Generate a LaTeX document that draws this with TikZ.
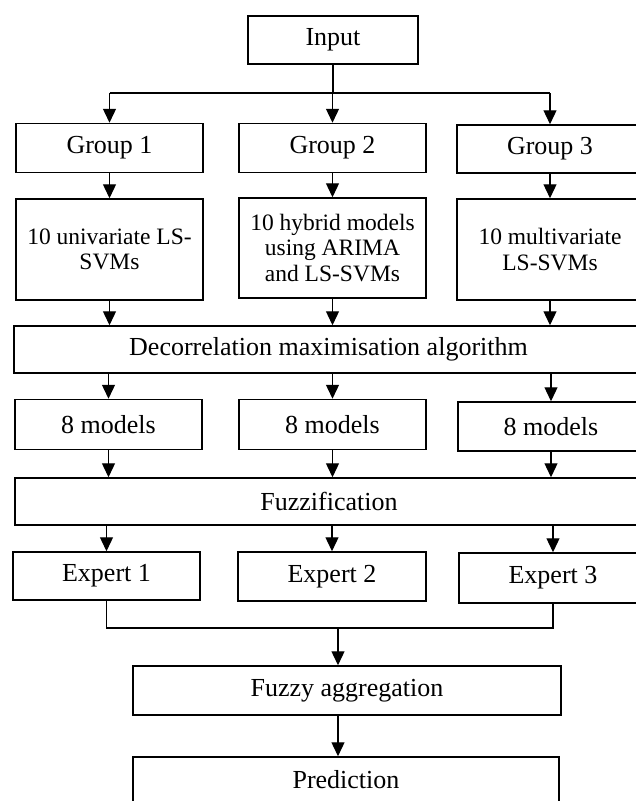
\documentclass[tikz,border=0pt]{standalone}
\usepackage{fontspec}
\setmainfont{Liberation Serif}
\usetikzlibrary{arrows.meta}

\begin{document}
\begin{tikzpicture}[x=1pt,y=-1pt,
    box/.style={draw,line width=1.5pt,inner sep=0pt,align=center,
      font=\fontsize{26}{30}\selectfont},
    smallbox/.style={box,font=\fontsize{23.5}{25.5}\selectfont},
    arr/.style={line width=1.3pt,-{Triangle[length=14pt,width=13pt]}},
    line/.style={line width=1.3pt}]
        % Frame
        \clip (0,0) rectangle (636,801);
        \useasboundingbox (0,0) rectangle (636,801);

        % Input
        \node[box,minimum width=170pt,minimum height=48pt] (inp) at (333,40) {Input};

        % Groups
        \node[box,minimum width=187pt,minimum height=49pt] (g1) at (109.5,148) {Group 1};
        \node[box,minimum width=187pt,minimum height=49pt] (g2) at (332.5,148) {Group 2};
        \node[box,minimum width=186pt,minimum height=48pt] (g3) at (550,149) {Group 3};

        % Models
        \node[smallbox,minimum width=187pt,minimum height=101pt] (m1) at (109.5,249.5) {10 univariate LS-\\SVMs};
        \node[smallbox,minimum width=187pt,minimum height=100pt] (m2) at (332.5,248) {10 hybrid models\\using ARIMA\\and LS-SVMs};
        \node[smallbox,minimum width=186pt,minimum height=101pt] (m3) at (550,249.5) {10 multivariate\\LS-SVMs};

        % Decorrelation
        \node[box,minimum width=629pt,minimum height=47pt] (dec) at (328.5,349.5) {Decorrelation maximisation algorithm};

        % Selected models
        \node[box,minimum width=187pt,minimum height=50pt] (s1) at (108.5,424.5) {8 models};
        \node[box,minimum width=187pt,minimum height=50pt] (s2) at (332.5,424.5) {8 models};
        \node[box,minimum width=186pt,minimum height=49pt] (s3) at (551,426.5) {8 models};

        % Fuzzification
        \node[box,minimum width=628pt,minimum height=47pt] (fuz) at (329,501.5) {Fuzzification};

        % Experts
        \node[box,minimum width=187pt,minimum height=48pt] (x1) at (106.5,576) {Expert 1};
        \node[box,minimum width=188pt,minimum height=49pt] (x2) at (332,576.5) {Expert 2};
        \node[box,minimum width=188pt,minimum height=50pt] (x3) at (553,578) {Expert 3};

        % Aggregation and output
        \node[box,minimum width=428pt,minimum height=49pt] (agg) at (347,690.5) {Fuzzy aggregation};
        \node[box,minimum width=426pt,minimum height=46pt] (pred) at (346,780) {Prediction};

        % Connectors
        \coordinate (sp) at (333,93);
        \coordinate (jn) at (338,628);
        \draw[line] (inp.south) -- (sp);
        \draw[line] (g1.north |- sp) -- (g3.north |- sp);
        \foreach \n in {1,2,3} {
          \draw[arr] (g\n.north |- sp) -- (g\n.north);
          \draw[arr] (g\n.south) -- (m\n.north);
          \draw[arr] (m\n.south) -- (m\n.south |- dec.north);
          \draw[arr] (s\n.north |- dec.south) -- (s\n.north);
          \draw[arr] (s\n.south) -- (s\n.south |- fuz.north);
          \draw[arr] (x\n.north |- fuz.south) -- (x\n.north);
        }
        \draw[line] (x1.south) |- (jn) -| (x3.south);
        \draw[arr] (jn) -- (jn |- agg.north);
        \draw[arr] (agg.south -| jn) -- (jn |- pred.north);
\end{tikzpicture}
\end{document}
